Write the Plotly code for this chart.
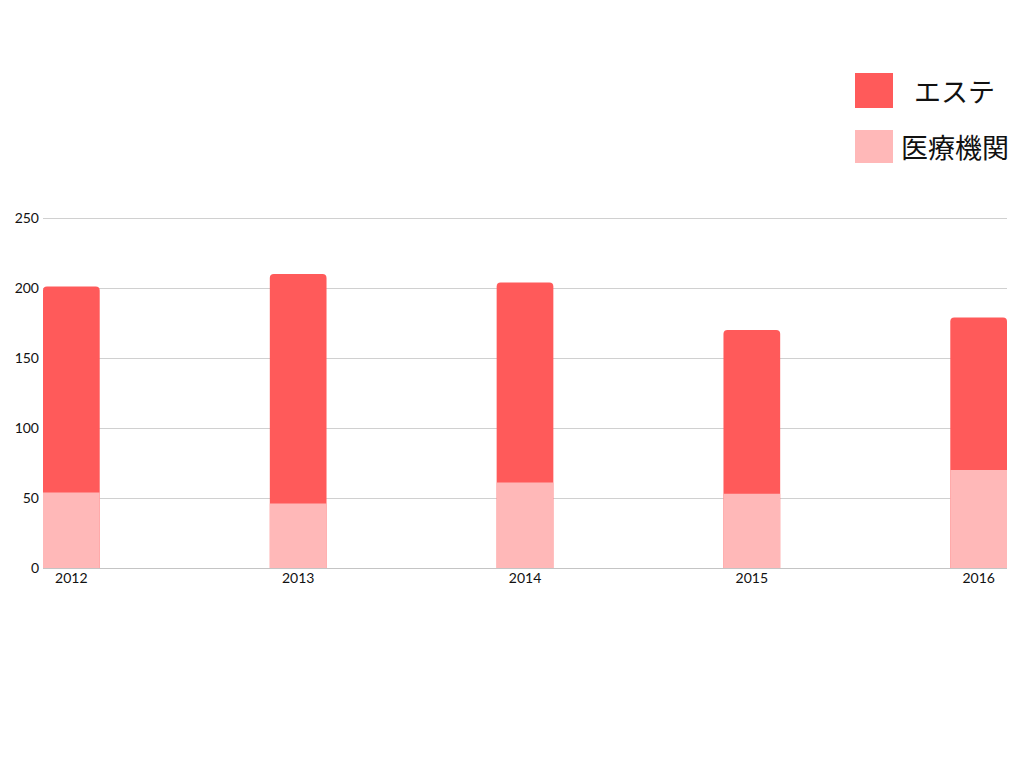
import plotly.graph_objects as go

years = [2012, 2013, 2014, 2015, 2016]
series_names = ["エステ", "医療機関"]
este = [201, 210, 204, 170, 179]
iryo = [54, 46, 61, 53, 70]
colors = ["#FF5A5A", "#FFB8B8"]
y_ticks = [0, 50, 100, 150, 200, 250]

W, H = 1024, 768
OFF = 8  # page body margin
PXU = 1.4  # pixels per y unit
EXTRA = 3  # px above the 250 gridline so it is drawn
L, R = 43 - OFF, 1024 - (1007 - OFF)
T = 218 - OFF - EXTRA
B = 768 - (568 - OFF)
YMAX = 250 + EXTRA / PXU
pw, ph = W - L - R, H - T - B

def px(x):
    return (x - OFF - L) / pw

def py(y):
    return (H - B - (y - OFF)) / ph

fig = go.Figure()
for name, vals, col in zip(series_names, [este, iryo], colors):
    fig.add_trace(go.Bar(
        x=years, y=vals, name=name, width=0.25,
        marker=dict(color=col, line=dict(width=0), cornerradius=4),
        showlegend=False,
    ))

# manual legend (large squares)
legend_rows = [(73, 108, 90.5), (130, 163, 146)]
shapes = []
annotations = []
for (y0, y1, yc), name, col in zip(legend_rows, series_names, colors):
    shapes.append(dict(type="rect", xref="paper", yref="paper",
                       x0=px(855), x1=px(893), y0=py(y1), y1=py(y0),
                       fillcolor=col, line=dict(width=0)))
    annotations.append(dict(xref="paper", yref="paper", x=px(954.5), y=py(yc),
                            text=name, showarrow=False, xanchor="center", yanchor="middle",
                            font=dict(family="Noto Sans CJK JP", size=27, color="#111111")))

fig.update_layout(
    template="none",
    width=W, height=H,
    margin=dict(l=L, r=R, t=T, b=B, pad=0),
    paper_bgcolor="white", plot_bgcolor="white",
    barmode="overlay",
    font=dict(family="Lato", size=14, color="#111111"),
    shapes=shapes, annotations=annotations,
    xaxis=dict(range=[2011.875, 2016.125], tickvals=years, ticktext=[str(y) for y in years],
               automargin=False,
               showgrid=False, zeroline=False, showline=False, ticks="", ticklen=0,
               tickfont=dict(family="Lato", size=14)),
    yaxis=dict(range=[0, YMAX], tickvals=y_ticks, showgrid=True, gridcolor="#d0d0d0", gridwidth=1,
               automargin=False,
               zeroline=True, zerolinecolor="#c4c4c4", zerolinewidth=1, showline=False,
               ticks="", ticklabelstandoff=3, tickfont=dict(family="Lato", size=14)),
)

fig.write_html("out.html")
